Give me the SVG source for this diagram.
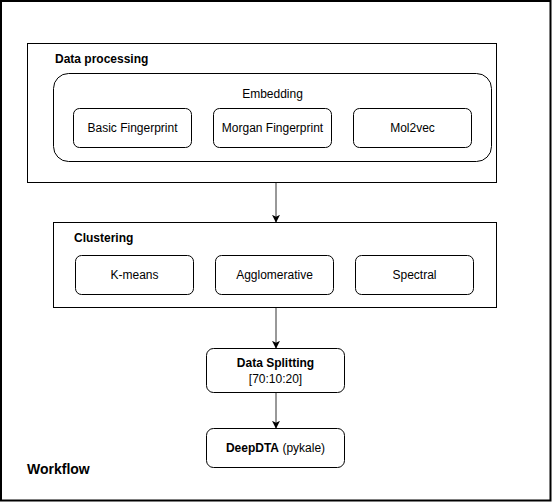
<svg xmlns="http://www.w3.org/2000/svg" width="552" height="502" viewBox="0 0 552 502">
<defs>
<marker id="arr" viewBox="0 0 10 10" refX="9" refY="5" markerWidth="8" markerHeight="8" markerUnits="userSpaceOnUse" orient="auto">
<path d="M0,0 L10,5 L0,10 L2.5,5 z" fill="#000"/>
</marker>
<style>
.frame{fill:#fff;stroke:#000;stroke-width:1}
.rbox{fill:#fff;stroke:#000;stroke-width:1}
.t{font-family:"Liberation Sans",Arial,sans-serif;font-size:12px;fill:#000}
.c{text-anchor:middle}
.b{font-weight:bold}
.edge{stroke:#333;stroke-width:1;fill:none;marker-end:url(#arr)}
</style>
</defs>
<rect width="552" height="502" fill="#fff"/>
<g id="workflow">
<rect x="1" y="1" width="549.5" height="499.5" fill="none" stroke="#000" stroke-width="2"/>
<text class="t b" x="27" y="474" style="font-size:14px">Workflow</text>
</g>
<g id="data-processing">
<rect class="frame" x="27.5" y="43.5" width="469" height="139"/>
<text class="t b" x="55" y="63">Data processing</text>
</g>
<g id="embedding">
<rect class="rbox" x="53.5" y="73.5" width="438" height="88" rx="15"/>
<text class="t c" x="272.5" y="98">Embedding</text>
</g>
<g id="basic-fingerprint">
<rect class="rbox" x="73.5" y="108.5" width="118" height="39" rx="6"/>
<text class="t c" x="132.5" y="132">Basic Fingerprint</text>
</g>
<g id="morgan-fingerprint">
<rect class="rbox" x="213.5" y="108.5" width="118" height="39" rx="6"/>
<text class="t c" x="272.5" y="132">Morgan Fingerprint</text>
</g>
<g id="mol2vec">
<rect class="rbox" x="353.5" y="108.5" width="118" height="39" rx="6"/>
<text class="t c" x="412.5" y="132">Mol2vec</text>
</g>
<g id="clustering">
<rect class="frame" x="53.5" y="222.5" width="443" height="85"/>
<text class="t b" x="74" y="242">Clustering</text>
</g>
<g id="k-means">
<rect class="rbox" x="75.5" y="255.5" width="118" height="39" rx="6"/>
<text class="t c" x="134.5" y="279">K-means</text>
</g>
<g id="agglomerative">
<rect class="rbox" x="215.5" y="255.5" width="118" height="39" rx="6"/>
<text class="t c" x="274.5" y="279">Agglomerative</text>
</g>
<g id="spectral">
<rect class="rbox" x="355.5" y="255.5" width="118" height="39" rx="6"/>
<text class="t c" x="414.5" y="279">Spectral</text>
</g>
<g id="data-splitting">
<rect class="rbox" x="206.5" y="348.5" width="138" height="44" rx="7"/>
<text class="t c b" x="275.5" y="367">Data Splitting</text>
<text class="t c" x="275.5" y="383">[70:10:20]</text>
</g>
<g id="deepdta">
<rect class="rbox" x="206.5" y="428.5" width="138" height="39" rx="7"/>
<text class="t c" x="275.5" y="452"><tspan class="b">DeepDTA</tspan> (pykale)</text>
</g>
<g id="connectors">
<path class="edge" d="M276,183 V222"/>
<path class="edge" d="M276,308 V348"/>
<path class="edge" d="M276,393 V428"/>
</g>
</svg>
